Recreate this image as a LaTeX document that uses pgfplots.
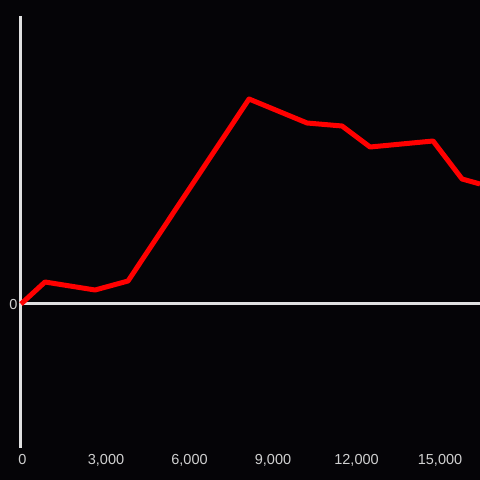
\documentclass[border=0pt]{standalone}
\usepackage{pgfplots}
\pgfplotsset{compat=1.18}
\usepackage{fontspec}
\setmainfont{Liberation Sans}
\definecolor{bg}{HTML}{050407}
\definecolor{axisgray}{HTML}{E0E0E0}
\definecolor{labelgray}{HTML}{D0D0D0}
\definecolor{linered}{HTML}{FF0000}
\begin{document}
\begin{tikzpicture}
\useasboundingbox (0,0) rectangle (480pt,480pt);
\clip (0,0) rectangle (480pt,480pt);
\fill[bg] (0,0) rectangle (480pt,480pt);
\begin{axis}[
  at={(21pt,32pt)}, anchor=south west,
  scale only axis, width=459pt, height=432pt,
  xmin=0, xmax=16490, ymin=-144, ymax=288,
  axis x line*=bottom, axis y line*=left,
  x axis line style={draw=none},
  y axis line style={draw=axisgray, line width=3pt, -},
  xtick={0,3000,6000,9000,12000,15000},
  ytick={0},
  major tick length=0pt,
  tick style={draw=none},
  scaled x ticks=false,
  /pgf/number format/assume math mode=true,
  /pgf/number format/1000 sep={,},
  ticklabel style={font=\fontsize{14.5}{17}\selectfont, text=labelgray},
  xticklabel style={yshift=-2.5pt, xshift=1.5pt},
  yticklabel style={yshift=-1pt},
  clip=false,
]
\draw[axisgray, line width=3pt] (axis cs:0,0) -- (axis cs:16490,0);
\addplot[linered, line width=5pt, line join=round] coordinates {
  (0,0) (862,22) (2659,14) (3845,23) (8193,205) (10277,181)
  (11534,178) (12540,157) (14804,163) (15846,125) (16490,120)
};
\end{axis}
\end{tikzpicture}
\end{document}
